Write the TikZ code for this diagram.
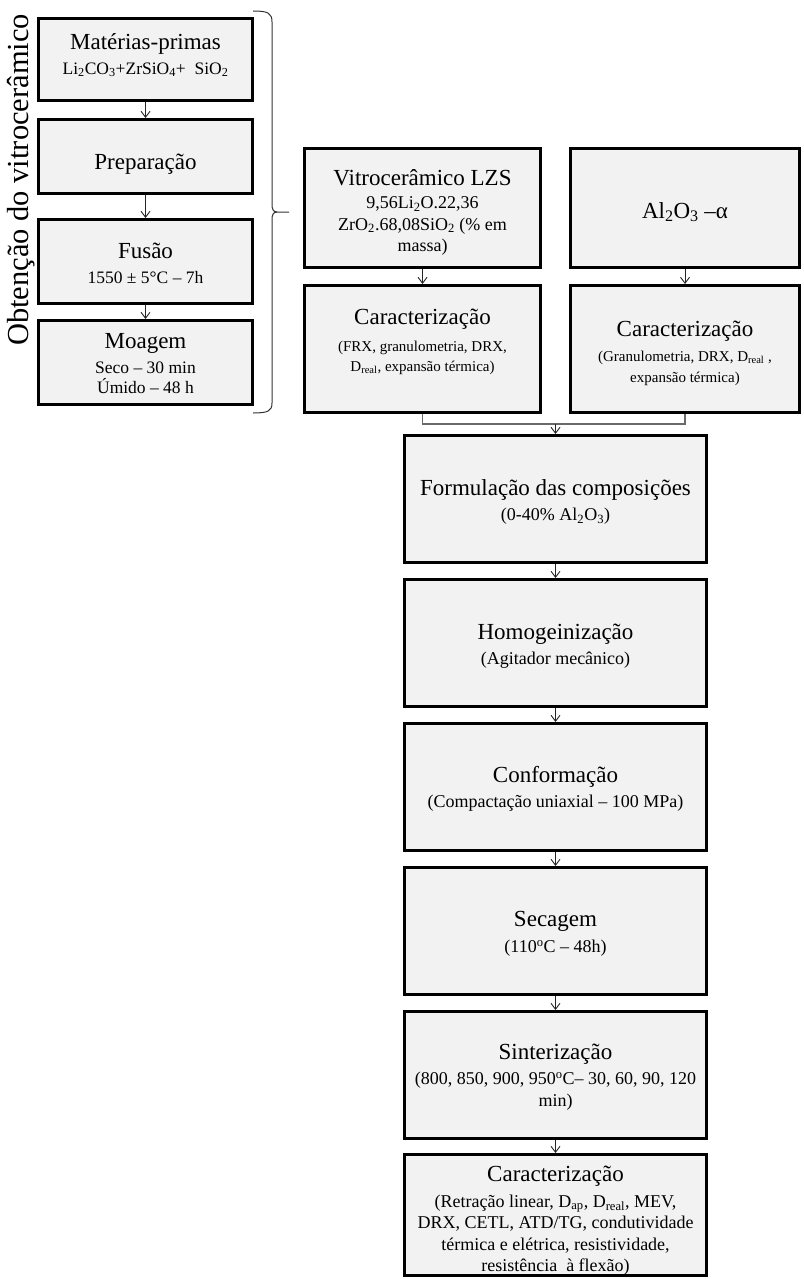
\documentclass[tikz,border=0pt]{standalone}
\usepackage{fontspec}
\setmainfont{Liberation Serif}
\usetikzlibrary{arrows.meta}
\definecolor{boxgray}{HTML}{F2F2F2}
\definecolor{linegray}{HTML}{6A6A6A}
\newcommand\ttl{\fontsize{23}{27}\selectfont}
\newcommand\sba{\fontsize{17.5}{20}\selectfont}
\newcommand\sbb{\fontsize{18}{21.5}\selectfont}
\newcommand\sbc{\fontsize{15}{20.5}\selectfont}
\newcommand\sbs[1]{\textsubscript{#1}}
\begin{document}
\begin{tikzpicture}[x=1pt,y=-1pt,
  box/.style={draw=black, line width=3pt, fill=boxgray, inner sep=0pt},
  txt/.style={align=center, inner sep=0pt, text=black},
  arr/.style={draw=black!85, line width=0.9pt, -{Straight Barb[length=6pt,width=9pt]}},
  joinline/.style={draw=linegray, line width=1.2pt},
  bracepath/.style={draw=black!80, line width=1pt}]
\fill[white] (0,0) rectangle (803,1279);
\useasboundingbox (0,0) rectangle (803,1279);

% left column
\node[box, minimum width=214, minimum height=82] (m1) at (145.5,59.5) {};
\node[box, minimum width=214, minimum height=74] (m2) at (145.5,156.5) {};
\node[box, minimum width=214, minimum height=84] (m3) at (145.5,261.5) {};
\node[box, minimum width=214, minimum height=84] (m4) at (145.5,362.5) {};

\node[txt, font=\sba] (t1) at (145.5,55) {{\ttl Matérias-primas}\\[5pt]Li\sbs{2}CO\sbs{3}+ZrSiO\sbs{4}+\ \ SiO\sbs{2}};
\node[txt, font=\ttl] (t2) at (145.5,164) {Preparação};
\node[txt, font=\sba] (t3) at (145.5,263) {{\ttl Fusão}\\[5pt]1550 ± 5°C – 7h};
\node[txt, font=\sba] (t4) at (145.5,364) {{\ttl Moagem}\\[5pt]Seco – 30 min\\Úmido – 48 h};

\draw[arr] (m1.south) -- (m2.north);
\draw[arr] (m2.south) -- (m3.north);
\draw[arr] (m3.south) -- (m4.north);

% side label and brace
\node[txt, rotate=90, font=\fontsize{30.5}{36}\selectfont] (side) at (21,180) {Obtenção do vitrocerâmico};
\draw[bracepath] (253,11) .. controls (268,11) and (272,13) .. (272,22) -- (272,204)
  .. controls (272,209) and (273,212) .. (277,212) -- (289,212);
\draw[bracepath] (277,212) .. controls (273,212) and (272,215) .. (272,220) -- (272,403)
  .. controls (272,411) and (268,413) .. (253,413);

% top right
\node[box, minimum width=236, minimum height=119] (lzs) at (422.5,208) {};
\node[box, minimum width=229, minimum height=119] (al) at (685,208) {};
\node[box, minimum width=236, minimum height=127] (cl) at (422.5,349) {};
\node[box, minimum width=229, minimum height=127] (cr) at (685,349) {};

\node[txt, font=\sbb] (tlzs) at (422.5,212.5) {{\ttl Vitrocerâmico LZS}\\[2pt]9,56Li\sbs{2}O.22,36\\ZrO\sbs{2}.68,08SiO\sbs{2} (\% em\\massa)};
\node[txt, font=\ttl] (tal) at (685,212) {Al\sbs{2}O\sbs{3} –α};
\node[txt, font=\sbc] (tcl) at (422.5,342) {{\ttl Caracterização}\\[6pt](FRX, granulometria, DRX,\\D\sbs{real}, expansão térmica)};
\node[txt, font=\sbc] (tcr) at (685,353) {{\ttl Caracterização}\\[5pt](Granulometria, DRX, D\sbs{real} ,\\expansão térmica)};

\draw[arr] (lzs.south) -- (cl.north);
\draw[arr] (al.south) -- (cr.north);

% main column
\node[box, minimum width=302, minimum height=127] (f1) at (555.5,499) {};
\node[box, minimum width=302, minimum height=127] (f2) at (555.5,643) {};
\node[box, minimum width=302, minimum height=127] (f3) at (555.5,787) {};
\node[box, minimum width=302, minimum height=127] (f4) at (555.5,931) {};
\node[box, minimum width=302, minimum height=127] (f5) at (555.5,1075) {};
\node[box, minimum width=302, minimum height=121] (f6) at (555.5,1215) {};

\node[txt, font=\sbb] (tf1) at (555.5,502) {{\ttl Formulação das composições}\\[4pt](0-40\% Al\sbs{2}O\sbs{3})};
\node[txt, font=\sbb] (tf2) at (555.5,646) {{\ttl Homogeinização}\\[4pt](Agitador mecânico)};
\node[txt, font=\sbb] (tf3) at (555.5,789) {{\ttl Conformação}\\[4pt](Compactação uniaxial – 100 MPa)};
\node[txt, font=\sbb] (tf4) at (555.5,934) {{\ttl Secagem}\\[4pt](110\textsuperscript{o}C – 48h)};
\node[txt, font=\sbb] (tf5) at (555.5,1077) {{\ttl Sinterização}\\[4pt](800, 850, 900, 950\textsuperscript{o}C– 30, 60, 90, 120\\min)};
\node[txt, font=\sbb] (tf6) at (555.5,1221) {{\ttl Caracterização}\\[4pt](Retração linear, D\sbs{ap}, D\sbs{real}, MEV,\\DRX, CETL, ATD/TG, condutividade\\térmica e elétrica, resistividade,\\resistência\ \ à flexão)};

% join connector
\coordinate (jn) at (555.5,424);
\draw[joinline] (cl.south) -- ++(0,10) -| (cr.south);
\draw[arr] (jn) -- (f1.north);
\draw[arr] (f1.south) -- (f2.north);
\draw[arr] (f2.south) -- (f3.north);
\draw[arr] (f3.south) -- (f4.north);
\draw[arr] (f4.south) -- (f5.north);
\draw[arr] (f5.south) -- (f6.north);
\end{tikzpicture}
\end{document}
